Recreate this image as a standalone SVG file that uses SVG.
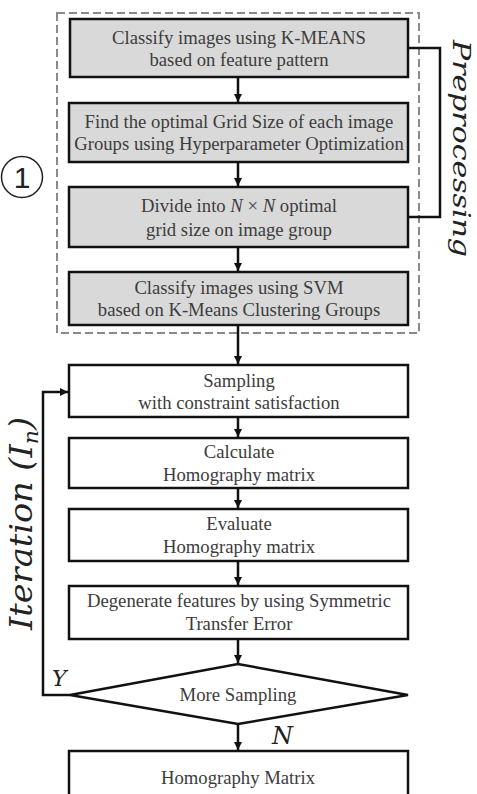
<svg xmlns="http://www.w3.org/2000/svg" width="477" height="794" viewBox="0 0 477 794">
<defs>
<marker id="ah" viewBox="0 0 10 10" refX="10" refY="5" markerWidth="8" markerHeight="8" markerUnits="userSpaceOnUse" orient="auto">
<path d="M0,0 L10,5 L0,10 z" fill="#111"/>
</marker>
<style>
.gb{fill:#d9d9d9;stroke:#111;stroke-width:2.5}
.wb{fill:#fff;stroke:#111;stroke-width:2.5}
.t{font-family:'Liberation Serif',serif;font-size:18.7px;fill:#3c3c3c;text-anchor:middle}
.c{fill:none;stroke:#111;stroke-width:2.5}
.m{font-family:'DejaVu Serif',serif;font-style:italic;fill:#222}
</style>
</defs>
<rect width="477" height="794" fill="#fff"/>
<rect id="dashed" x="57" y="13" width="362" height="320" fill="none" stroke="#8a8a8a" stroke-width="2" stroke-dasharray="8,4"/>
<g id="n1"><rect class="gb" x="70" y="19" width="338" height="58"/><text class="t" x="239" y="44" font-size="19.7">Classify images using K-MEANS</text><text class="t" x="239" y="66" font-size="19.7">based on feature pattern</text></g>
<g id="n2"><rect class="gb" x="69" y="103" width="339" height="59"/><text class="t" x="239" y="128" font-size="16.4">Find the optimal Grid Size of each image</text><text class="t" x="239" y="150" font-size="16.4">Groups using Hyperparameter Optimization</text></g>
<g id="n3"><rect class="gb" x="69" y="187" width="339" height="60"/><text class="t" x="239" y="212" font-size="19.7">Divide into <tspan font-style="italic">N</tspan> × <tspan font-style="italic">N</tspan> optimal</text><text class="t" x="239" y="236" font-size="19.7">grid size on  image group</text></g>
<g id="n4"><rect class="gb" x="69" y="272" width="339" height="53"/><text class="t" x="239" y="294" font-size="19.7">Classify images using SVM</text><text class="t" x="239" y="316" font-size="19.7">based on K-Means Clustering Groups</text></g>
<g id="n5"><rect class="wb" x="69" y="365" width="339" height="52"/><text class="t" x="239" y="387">Sampling</text><text class="t" x="239" y="409">with constraint satisfaction</text></g>
<g id="n6"><rect class="wb" x="69" y="438" width="339" height="50"/><text class="t" x="239" y="458">Calculate</text><text class="t" x="239" y="481">Homography matrix</text></g>
<g id="n7"><rect class="wb" x="69" y="509" width="339" height="52"/><text class="t" x="239" y="530">Evaluate</text><text class="t" x="239" y="553">Homography matrix</text></g>
<g id="n8"><rect class="wb" x="69" y="586" width="339" height="53"/><text class="t" x="239" y="607">Degenerate features by using Symmetric</text><text class="t" x="239" y="630">Transfer Error</text></g>
<g id="n9"><polygon class="wb" points="70,695 238,664 408,695 238,724"/><text class="t" x="238" y="701">More Sampling</text></g>
<g id="n10"><rect class="wb" x="69" y="751" width="339" height="60"/><text class="t" x="238" y="784">Homography Matrix</text></g>
<g id="connectors">
<line class="c" x1="238" y1="77" x2="238" y2="102" marker-end="url(#ah)"/>
<line class="c" x1="238" y1="162" x2="238" y2="186" marker-end="url(#ah)"/>
<line class="c" x1="238" y1="247" x2="238" y2="271" marker-end="url(#ah)"/>
<line class="c" x1="238" y1="325" x2="238" y2="364" marker-end="url(#ah)"/>
<line class="c" x1="238" y1="417" x2="238" y2="437" marker-end="url(#ah)"/>
<line class="c" x1="238" y1="488" x2="238" y2="508" marker-end="url(#ah)"/>
<line class="c" x1="238" y1="561" x2="238" y2="585" marker-end="url(#ah)"/>
<line class="c" x1="238" y1="639" x2="238" y2="663" marker-end="url(#ah)"/>
<line class="c" x1="238" y1="724" x2="238" y2="750" marker-end="url(#ah)"/>
<polyline class="c" points="70,695 43,695 43,392 68,392" marker-end="url(#ah)"/>
<polyline class="c" points="408,48 440,48 440,217 408,217"/>
</g>
<text class="m" font-size="24" transform="translate(453,40) rotate(90)" textLength="217" lengthAdjust="spacingAndGlyphs">Preprocessing</text>
<text class="m" font-size="32" transform="translate(32,630) rotate(-90)" textLength="213" lengthAdjust="spacingAndGlyphs">Iteration (I<tspan font-size="21" dy="6">n</tspan><tspan dy="-6">)</tspan></text>
<text class="m" font-size="22" x="52" y="686">Y</text>
<text class="m" font-size="24" x="272" y="744">N</text>
<g id="circ1"><circle cx="22" cy="177" r="20.5" fill="none" stroke="#222" stroke-width="1.5"/><text x="22" y="188" font-family="'Liberation Sans',sans-serif" font-size="30" text-anchor="middle" fill="#222">1</text></g>
</svg>
